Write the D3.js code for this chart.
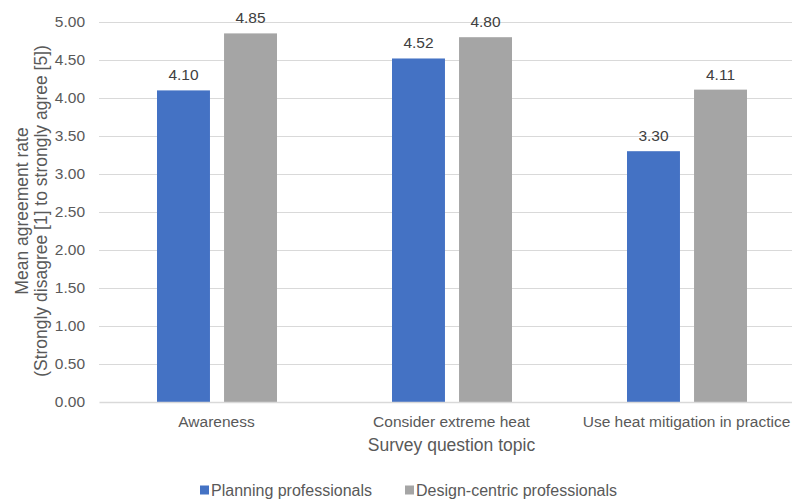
<!DOCTYPE html>
<html>
<head>
<meta charset="utf-8">
<script src="https://cdn.jsdelivr.net/npm/d3@7/dist/d3.min.js"></script>
<style>
  html, body { margin: 0; padding: 0; background: #fff; }
  svg { display: block; font-family: "Liberation Sans", Arial, sans-serif; }
</style>
</head>
<body>
<svg id="chart" width="792" height="501"></svg>
<script>
// Survey results: mean agreement by question topic
const categories = ["Awareness", "Consider extreme heat", "Use heat mitigation in practice"];
const seriesNames = ["Planning professionals", "Design-centric professionals"];
const planningValues = [4.10, 4.52, 3.30];
const designValues = [4.85, 4.80, 4.11];
const yTicks = [0, 0.5, 1, 1.5, 2, 2.5, 3, 3.5, 4, 4.5, 5];

const colors = ["#4472C4", "#A5A5A5"];
const seriesValues = [planningValues, designValues];

const svg = d3.select("#chart");
const plot = { left: 99, right: 804, top: 22, bottom: 402 };

const x0 = d3.scaleBand().domain(categories).range([plot.left, plot.right]).padding(0);
const bw = x0.bandwidth();
const x1 = d3.scaleBand().domain(seriesNames)
  .range([bw * 58 / 235, bw * 178 / 235]).paddingInner(0.21).paddingOuter(0);
const y = d3.scaleLinear().domain([0, 5]).range([plot.bottom, plot.top]);

// gridlines
svg.append("g")
  .selectAll("line")
  .data(yTicks.filter(d => d > 0))
  .join("line")
  .attr("x1", plot.left).attr("x2", plot.right)
  .attr("y1", d => Math.round(y(d)) + 0.5).attr("y2", d => Math.round(y(d)) + 0.5)
  .attr("stroke", "#d9d9d9").attr("stroke-width", 1);

// y axis tick labels
const yAxis = d3.axisLeft(y).tickValues(yTicks).tickFormat(d3.format(".2f")).tickSize(0).tickPadding(14);
const gy = svg.append("g").attr("transform", `translate(${plot.left},0)`).call(yAxis);
gy.select(".domain").remove();
gy.selectAll("text").attr("fill", "#595959").style("font-size", "15.5px")
  .style("font-family", "'Liberation Sans', Arial, sans-serif");

// bars
const rows = categories.map((c, i) => seriesNames.map((s, j) => ({ cat: c, series: s, value: seriesValues[j][i], j })));
const groups = svg.append("g").selectAll("g")
  .data(rows)
  .join("g")
  .attr("transform", (d, i) => `translate(${x0(categories[i])},0)`);

groups.selectAll("rect")
  .data(d => d)
  .join("rect")
  .attr("x", d => x1(d.series))
  .attr("width", x1.bandwidth())
  .attr("y", d => y(d.value))
  .attr("height", d => y(0) - y(d.value))
  .attr("fill", d => colors[d.j]);

groups.selectAll("text")
  .data(d => d)
  .join("text")
  .attr("x", d => x1(d.series) + x1.bandwidth() / 2)
  .attr("y", d => y(d.value) - 10)
  .attr("text-anchor", "middle")
  .attr("fill", "#404040")
  .style("font-size", "15.5px")
  .text(d => d.value.toFixed(2));

// x axis
const xAxis = d3.axisBottom(x0).tickSize(0).tickPadding(14);
const gx = svg.append("g").attr("transform", `translate(0,${plot.bottom})`).call(xAxis);
gx.select(".domain").attr("stroke", "#d9d9d9").attr("stroke-width", 1.5);
gx.selectAll("text").attr("fill", "#595959").style("font-size", "15.5px")
  .style("font-family", "'Liberation Sans', Arial, sans-serif");

// axis titles
svg.append("text")
  .attr("x", (plot.left + plot.right) / 2).attr("y", 451)
  .attr("text-anchor", "middle").attr("fill", "#595959")
  .style("font-size", "17.5px")
  .text("Survey question topic");

const yTitle = svg.append("text")
  .attr("transform", `rotate(-90)`)
  .attr("text-anchor", "middle").attr("fill", "#595959")
  .style("font-size", "17.5px");
yTitle.append("tspan").attr("x", -211).attr("y", 28).text("Mean agreement rate");
yTitle.append("tspan").attr("x", -211).attr("y", 47).text("(Strongly disagree [1] to strongly agree [5])");

// legend
const legendX = [200, 405];
const legend = svg.append("g").selectAll("g")
  .data(seriesNames)
  .join("g")
  .attr("transform", (d, i) => `translate(${legendX[i]},490)`);
legend.append("rect").attr("x", 0).attr("y", -4.5).attr("width", 9).attr("height", 9)
  .attr("fill", (d, i) => colors[i]);
legend.append("text").attr("x", 11).attr("y", 5.5)
  .attr("fill", "#595959").style("font-size", "16px")
  .text(d => d);
</script>
</body>
</html>
